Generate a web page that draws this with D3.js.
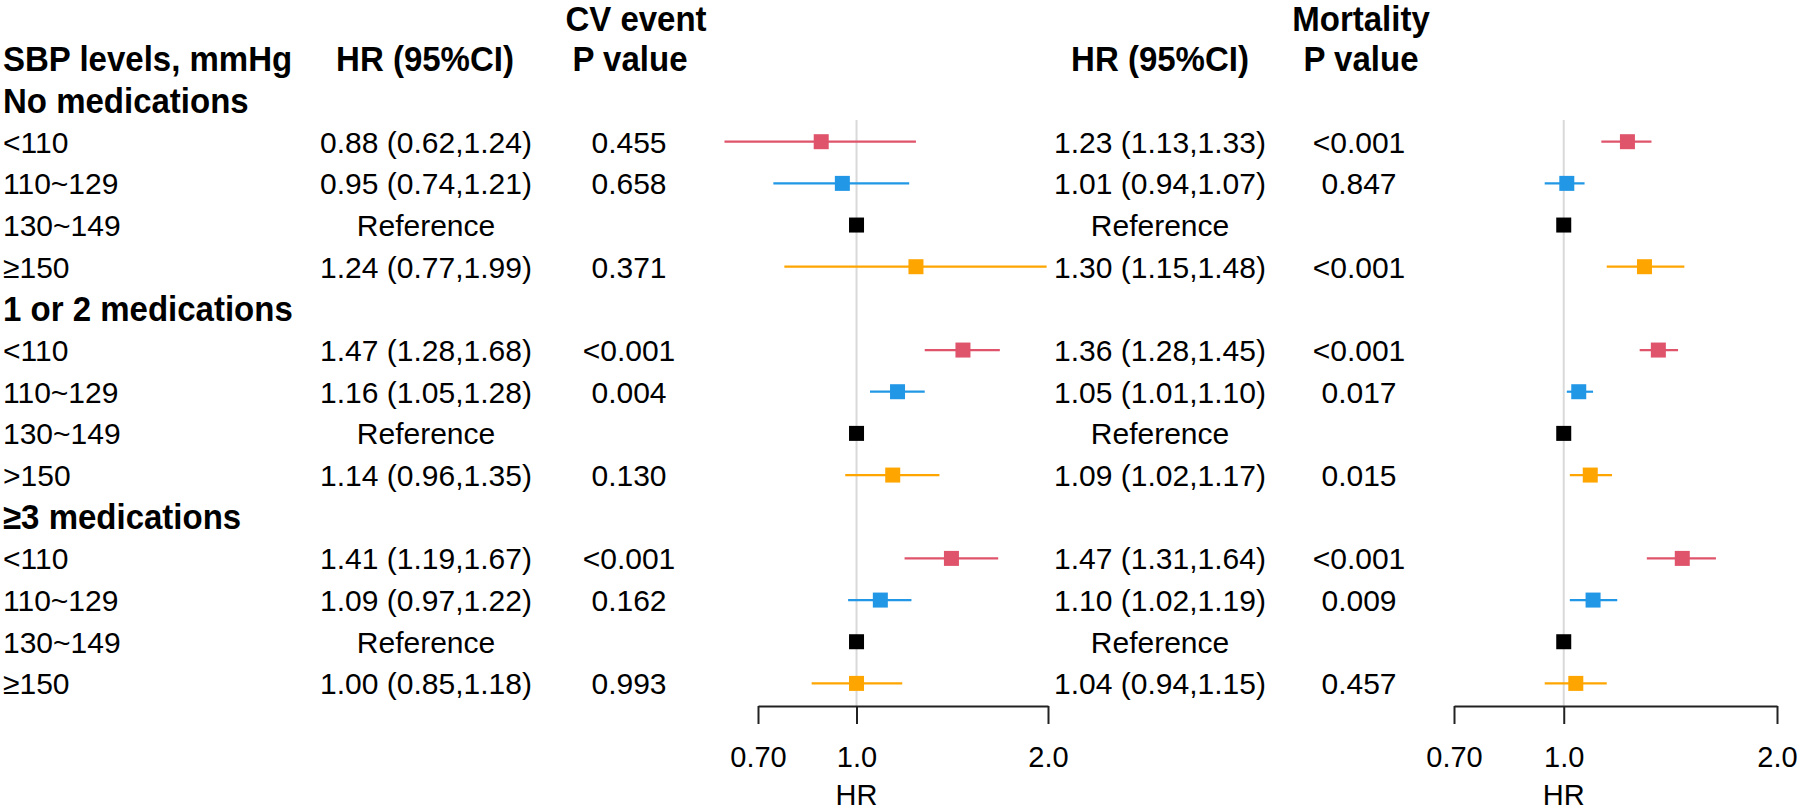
<!DOCTYPE html>
<html>
<head>
<meta charset="utf-8">
<script src="https://cdn.jsdelivr.net/npm/d3@7"></script>
<style>
  html, body { margin: 0; padding: 0; background: #ffffff; }
  svg { display: block; font-family: "Liberation Sans", Arial, Helvetica, sans-serif; }
</style>
</head>
<body>
<svg id="chart" width="1800" height="812"></svg>
<script>
// ---------- data ----------
const groups = ["No medications", "1 or 2 medications", "\u22653 medications"];
const levels = [
  ["<110", "110~129", "130~149", "\u2265150"],
  ["<110", "110~129", "130~149", ">150"],
  ["<110", "110~129", "130~149", "\u2265150"]
];
const levelColors = ["#DF536B", "#2297E6", "#000000", "#FFA500"];

const cvHR = [0.88, 0.95, 1, 1.24, 1.47, 1.16, 1, 1.14, 1.41, 1.09, 1, 1.00];
const cvLo = [0.62, 0.74, null, 0.77, 1.28, 1.05, null, 0.96, 1.19, 0.97, null, 0.85];
const cvHi = [1.24, 1.21, null, 1.99, 1.68, 1.28, null, 1.35, 1.67, 1.22, null, 1.18];
const cvP  = ["0.455", "0.658", "", "0.371", "<0.001", "0.004", "", "0.130", "<0.001", "0.162", "", "0.993"];

const mHR = [1.23, 1.01, 1, 1.30, 1.36, 1.05, 1, 1.09, 1.47, 1.10, 1, 1.04];
const mLo = [1.13, 0.94, null, 1.15, 1.28, 1.01, null, 1.02, 1.31, 1.02, null, 0.94];
const mHi = [1.33, 1.07, null, 1.48, 1.45, 1.10, null, 1.17, 1.64, 1.19, null, 1.15];
const mP  = ["<0.001", "0.847", "", "<0.001", "<0.001", "0.017", "", "0.015", "<0.001", "0.009", "", "0.457"];

const tickValues = [0.70, 1.0, 2.0];
const tickLabels = ["0.70", "1.0", "2.0"];
const axisTitle = "HR";
const headers = {
  label: "SBP levels, mmHg",
  hr: "HR (95%CI)",
  p: "P value",
  cv: "CV event",
  mort: "Mortality"
};
const refText = "Reference";

// ---------- layout ----------
const svg = d3.select("#chart");
const rowY = d3.scaleLinear().domain([0, 16]).range([16.7, 683.4]);
const boldSize = 33, regSize = 30, boldStretch = 1.06;
const xCV = d3.scaleLog().domain([0.7, 2.0]).range([758, 1048]);
const xM  = d3.scaleLog().domain([0.7, 2.0]).range([1454, 1777]);
const axisY = 706;

const fmt = d3.format(".2f");

// build rows
const rows = [];
let r = 2;
groups.forEach((g, gi) => {
  rows.push({type: "group", text: g, row: r++});
  levels[gi].forEach((lv, li) => {
    const k = gi * 4 + li;
    rows.push({type: "item", text: lv, row: r++, li, k});
  });
});

function boldAt(x, base, t, anchor) {
  svg.append("text")
    .attr("transform", `translate(${x},${base}) scale(1,${boldStretch})`)
    .attr("text-anchor", anchor).attr("font-size", boldSize).attr("font-weight", "bold")
    .attr("fill", "#000").text(t);
}
function bold(x, y, t, anchor) {
  boldAt(x, y + 0.36 * boldSize * boldStretch, t, anchor);
}
function reg(x, y, t, anchor) {
  svg.append("text").attr("x", x).attr("y", y).attr("dy", "0.36em")
    .attr("text-anchor", anchor).attr("font-size", regSize)
    .attr("fill", "#000").text(t);
}

// headers
boldAt(636, 30.5, headers.cv, "middle");
boldAt(1361, 30.5, headers.mort, "middle");
bold(3, rowY(1), headers.label, "start");
bold(425, rowY(1), headers.hr, "middle");
bold(630, rowY(1), headers.p, "middle");
bold(1160, rowY(1), headers.hr, "middle");
bold(1361, rowY(1), headers.p, "middle");

// reference lines
function refLine(x) {
  svg.append("line").attr("x1", x(1)).attr("x2", x(1))
    .attr("y1", 120).attr("y2", axisY)
    .attr("stroke", "#d9d9d9").attr("stroke-width", 2);
}
refLine(xCV); refLine(xM);

// rows
rows.forEach(d => {
  const y = rowY(d.row);
  if (d.type === "group") { bold(3, y, d.text, "start"); return; }
  reg(3, y, d.text, "start");
  const k = d.k;
  const col = levelColors[d.li];
  reg(426, y, cvLo[k] == null ? refText : `${fmt(cvHR[k])} (${fmt(cvLo[k])},${fmt(cvHi[k])})`, "middle");
  reg(629, y, cvP[k], "middle");
  reg(1160, y, mLo[k] == null ? refText : `${fmt(mHR[k])} (${fmt(mLo[k])},${fmt(mHi[k])})`, "middle");
  reg(1359, y, mP[k], "middle");
  [[xCV, cvHR, cvLo, cvHi], [xM, mHR, mLo, mHi]].forEach(([x, hr, lo, hi]) => {
    if (lo[k] != null) {
      svg.append("line").attr("x1", x(lo[k])).attr("x2", x(hi[k]))
        .attr("y1", y).attr("y2", y).attr("stroke", col).attr("stroke-width", 2.2);
    }
    svg.append("rect").attr("x", x(hr[k]) - 7.5).attr("y", y - 7.5)
      .attr("width", 15).attr("height", 15).attr("fill", col);
  });
});

// axes
[xCV, xM].forEach(x => {
  const g = svg.append("g").attr("transform", `translate(0,${axisY})`);
  const ax = d3.axisBottom(x).tickValues(tickValues)
    .tickFormat((v, i) => tickLabels[i]).tickSize(18).tickPadding(22).tickSizeOuter(0);
  g.call(ax);
  g.select(".domain").attr("stroke", "#222").attr("stroke-width", 2);
  g.selectAll(".tick line").attr("stroke", "#222").attr("stroke-width", 2);
  g.selectAll(".tick text").attr("font-size", 29).attr("fill", "#000")
    .attr("font-family", "\"Liberation Sans\", Arial, sans-serif");
  svg.append("text").attr("x", x(1)).attr("y", 795).attr("dy", "0.36em")
    .attr("text-anchor", "middle").attr("font-size", 29).text(axisTitle);
});
</script>
</body>
</html>
